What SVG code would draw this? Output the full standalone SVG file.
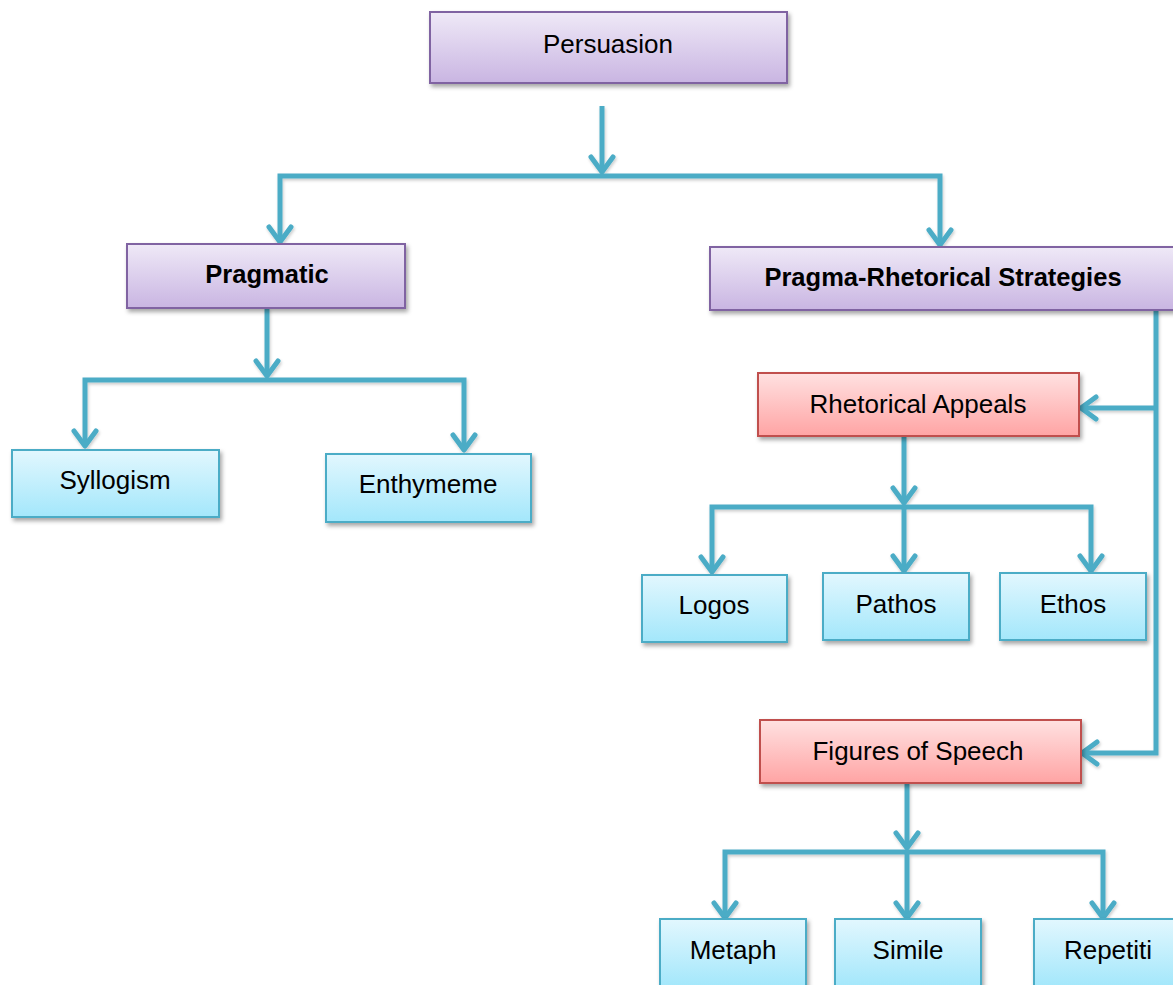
<svg xmlns="http://www.w3.org/2000/svg" width="1173" height="985" viewBox="0 0 1173 985">
<defs>
<linearGradient id="gPurple" x1="0" y1="0" x2="0" y2="1"><stop offset="0" stop-color="#EFE9F7"/><stop offset="1" stop-color="#C9B5E2"/></linearGradient>
<linearGradient id="gRed" x1="0" y1="0" x2="0" y2="1"><stop offset="0" stop-color="#FFE1E1"/><stop offset="1" stop-color="#FFA4A4"/></linearGradient>
<linearGradient id="gBlue" x1="0" y1="0" x2="0" y2="1"><stop offset="0" stop-color="#E2F7FE"/><stop offset="1" stop-color="#A3E7FB"/></linearGradient>
<filter id="shadow" x="-10%" y="-20%" width="120%" height="150%"><feDropShadow dx="2" dy="3" stdDeviation="2" flood-color="#000" flood-opacity="0.35"/></filter>
<filter id="lshadow" x="-20%" y="-20%" width="140%" height="140%"><feDropShadow dx="1" dy="2" stdDeviation="1.5" flood-color="#000" flood-opacity="0.2"/></filter>
<marker id="arr" markerUnits="userSpaceOnUse" viewBox="-20 -15 25 30" markerWidth="25" markerHeight="30" refX="0" refY="0" orient="auto-start-reverse" overflow="visible">
<path d="M-15,-11 L0,0 L-15,11" fill="none" stroke="#4BACC6" stroke-width="5" stroke-linecap="round" stroke-linejoin="round"/>
</marker>
</defs>
<style>
.box{stroke-width:2;filter:url(#shadow)}
.p{fill:url(#gPurple);stroke:#8064A2}
.r{fill:url(#gRed);stroke:#C0504D}
.b{fill:url(#gBlue);stroke:#4BACC6}
text{font-family:"Liberation Sans",Arial,sans-serif;font-size:26px;fill:#000;text-anchor:middle}
.bold{font-weight:bold;font-size:25.5px}
.c{fill:none;stroke:#4BACC6;stroke-width:5;stroke-linejoin:miter}
.e{marker-end:url(#arr)}
.se{marker-start:url(#arr);marker-end:url(#arr)}
</style>
<g id="connectors" filter="url(#lshadow)">
<path class="c e" d="M602,106 L602,172"/>
<path class="c se" d="M280,242 L280,176 L940,176 L940,245"/>
<path class="c e" d="M267,308 L267,376"/>
<path class="c se" d="M85,446 L85,380 L464,380 L464,450"/>
<path class="c e" d="M1156,310 L1156,753 L1082,753"/>
<path class="c e" d="M1156,408 L1081,408"/>
<path class="c e" d="M904,436 L904,503"/>
<path class="c se" d="M712,572 L712,507 L1091,507 L1091,571"/>
<path class="c e" d="M904,507 L904,571"/>
<path class="c e" d="M907,783 L907,848"/>
<path class="c se" d="M725,918 L725,852 L1103,852 L1103,918"/>
<path class="c e" d="M907,852 L907,918"/>
</g>
<g id="persuasion"><rect class="box p" x="430" y="12" width="357" height="71"/><text x="608" y="53">Persuasion</text></g>
<g id="pragmatic"><rect class="box p" x="127" y="244" width="278" height="64"/><text class="bold" x="267" y="283">Pragmatic</text></g>
<g id="pragma-rhetorical"><rect class="box p" x="710" y="247" width="466" height="63"/><text class="bold" x="943" y="286">Pragma-Rhetorical Strategies</text></g>
<g id="syllogism"><rect class="box b" x="12" y="450" width="207" height="67"/><text x="115" y="489">Syllogism</text></g>
<g id="enthymeme"><rect class="box b" x="326" y="454" width="205" height="68"/><text x="428" y="493">Enthymeme</text></g>
<g id="rhetorical-appeals"><rect class="box r" x="758" y="373" width="321" height="63"/><text x="918" y="413">Rhetorical Appeals</text></g>
<g id="logos"><rect class="box b" x="642" y="575" width="145" height="67"/><text x="714" y="614">Logos</text></g>
<g id="pathos"><rect class="box b" x="823" y="573" width="146" height="67"/><text x="896" y="613">Pathos</text></g>
<g id="ethos"><rect class="box b" x="1000" y="573" width="146" height="67"/><text x="1073" y="613">Ethos</text></g>
<g id="figures-of-speech"><rect class="box r" x="760" y="720" width="321" height="63"/><text x="918" y="760">Figures of Speech</text></g>
<g id="metaph"><rect class="box b" x="660" y="919" width="146" height="68"/><text x="733" y="959">Metaph</text></g>
<g id="simile"><rect class="box b" x="835" y="919" width="146" height="68"/><text x="908" y="959">Simile</text></g>
<g id="repetiti"><rect class="box b" x="1034" y="919" width="146" height="68"/><text x="1108" y="959">Repetiti</text></g>
</svg>
